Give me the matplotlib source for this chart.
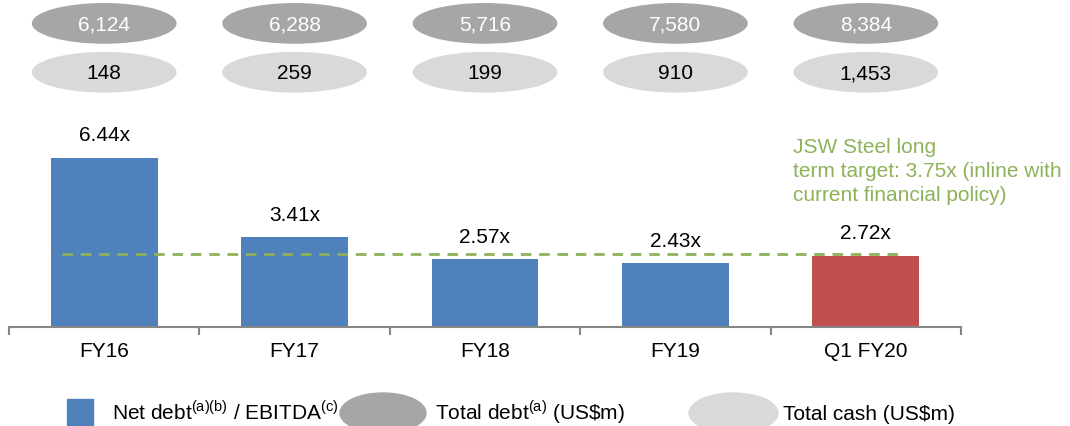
import matplotlib
matplotlib.use("Agg")
import matplotlib.pyplot as plt
from matplotlib.patches import Ellipse, Rectangle
from matplotlib.ticker import FixedLocator

plt.rcParams['font.family'] = ['Liberation Sans', 'DejaVu Sans']
plt.rcParams['mathtext.fontset'] = 'custom'
plt.rcParams['mathtext.rm'] = 'Liberation Sans'

# Daten
categories = ['FY16', 'FY17', 'FY18', 'FY19', 'Q1 FY20']
net_debt_ebitda = [6.44, 3.41, 2.57, 2.43, 2.72]
total_debt = ['6,124', '6,288', '5,716', '7,580', '8,384']
total_cash = ['148', '259', '199', '910', '1,453']
target_level = 2.77   # gestrichelte Linie (so wie im Bild gezeichnet)
target_text = 'JSW Steel long\nterm target: 3.75x (inline with\ncurrent financial policy)'

blue = '#4F81BD'
red = '#C0504D'
green = '#8DB259'
dark_grey = '#A6A6A6'
light_grey = '#D9D9D9'
axis_grey = '#868686'
fs = 15

fig = plt.figure(figsize=(10.7, 4.26), dpi=100)
ax = fig.add_axes([9 / 1070, 99 / 426, 952 / 1070, 327 / 426])

x = list(range(len(categories)))
colors = [blue] * (len(categories) - 1) + [red]
ax.bar(x, net_debt_ebitda, width=0.56, color=colors, zorder=2)

for xi, v in zip(x, net_debt_ebitda):
    ax.annotate(f'{v:.2f}x', (xi, v), xytext=(0, 9), textcoords='offset points',
                ha='center', va='bottom', fontsize=fs)

# Zielwert
ax.hlines(target_level, -0.22, 4.19, colors=green, linestyles=(0, (3.8, 2.8)), linewidth=2, zorder=3)
ax.text(3.62, 7.2, target_text, color=green, fontsize=fs, ha='left', va='top',
        linespacing=1.34, clip_on=False)

# Ellipsen mit Gesamtschulden / Cash
ax.set_xlim(-0.5, 4.5)
ax.set_ylim(0, 12.45)
for xi, d, c in zip(x, total_debt, total_cash):
    ax.add_patch(Ellipse((xi, 11.56), 0.76, 1.55, color=dark_grey, lw=0, clip_on=False))
    ax.text(xi, 11.50, d, ha='center', va='center', fontsize=fs, color='white')
    ax.add_patch(Ellipse((xi, 9.70), 0.76, 1.55, color=light_grey, lw=0, clip_on=False))
    ax.text(xi, 9.64, c, ha='center', va='center', fontsize=fs, color='black')

# Achsen
for s in ['top', 'left', 'right']:
    ax.spines[s].set_visible(False)
ax.spines['bottom'].set_color(axis_grey)
ax.spines['bottom'].set_linewidth(1.5)
ax.set_yticks([])
ax.set_xticks(x)
ax.set_xticklabels(categories, fontsize=fs)
ax.tick_params(axis='x', which='major', length=0, pad=11)
ax.xaxis.set_minor_locator(FixedLocator([i - 0.5 for i in range(len(categories) + 1)]))
ax.tick_params(axis='x', which='minor', length=6, width=1.5, color=axis_grey, direction='out')

# Legende (manuell)
tr = fig.dpi_scale_trans
fig.patches.append(Rectangle((0.67, 0.01), 0.26, 0.26, color=blue, transform=tr, figure=fig))
fig.patches.append(Ellipse((3.83, 0.13), 0.86, 0.40, color=dark_grey, transform=tr, figure=fig))
fig.patches.append(Ellipse((7.335, 0.13), 0.89, 0.40, color=light_grey, transform=tr, figure=fig))
fig.text(1.12, 0.06, r'Net debt$^{\mathrm{(a)(b)}}$ / EBITDA$^{\mathrm{(c)}}$', transform=tr,
         fontsize=fs, va='baseline', ha='left')
fig.text(4.35, 0.06, r'Total debt$^{\mathrm{(a)}}$ (US\$m)', transform=tr,
         fontsize=fs, va='baseline', ha='left')
fig.text(7.83, 0.06, 'Total cash (US$m)', transform=tr,
         fontsize=fs, va='baseline', ha='left')

fig.savefig('out.png', dpi=100)
